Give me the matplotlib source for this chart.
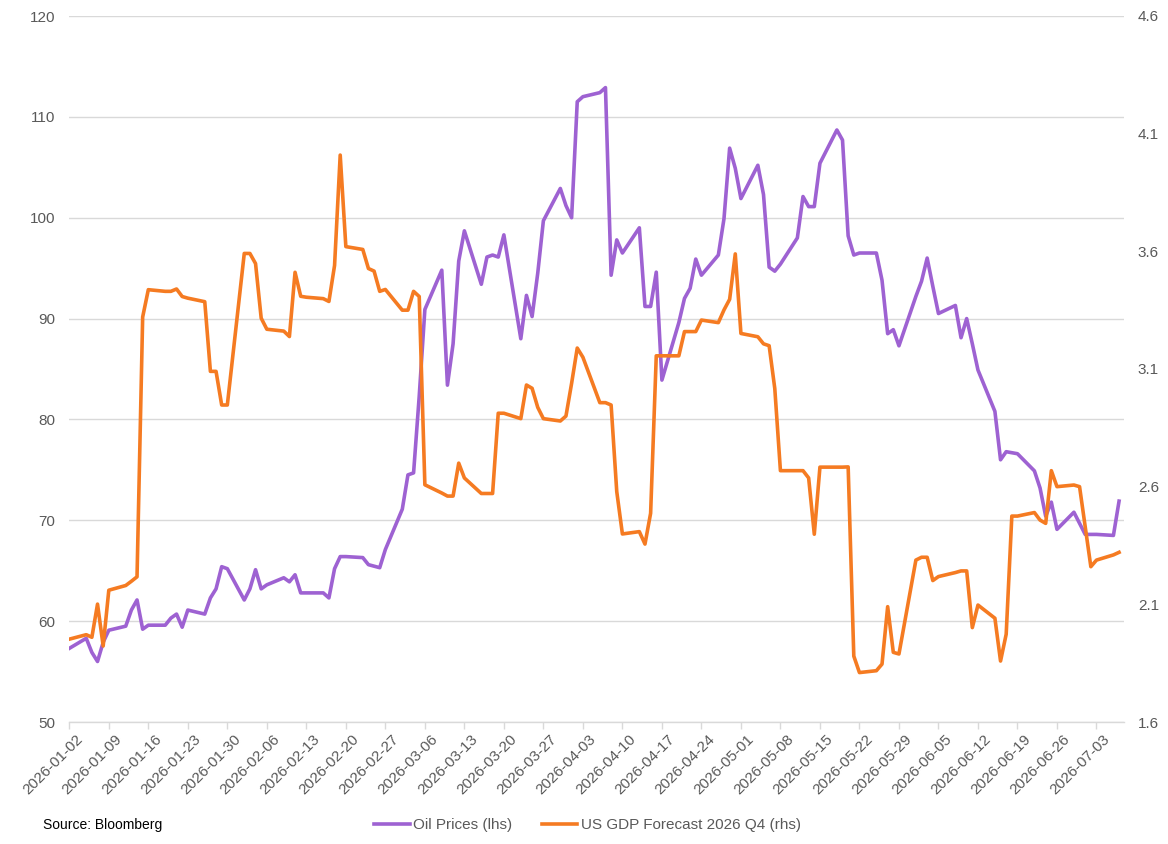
import matplotlib
matplotlib.use('Agg')
import matplotlib.pyplot as plt
import matplotlib.dates as mdates
import matplotlib.transforms as mtransforms
import pandas as pd
from matplotlib.lines import Line2D

plt.rcParams['font.family'] = ['Liberation Sans', 'DejaVu Sans']

# ---------------- data ----------------
dates = pd.bdate_range('2026-01-02', '2026-07-07')

oil = [
    57.3,
    58.3, 56.9, 56.0, 57.9, 59.1,
    59.5, 61.1, 62.1, 59.2, 59.6,
    59.6, 60.3, 60.7, 59.4, 61.1,
    60.7, 62.3, 63.2, 65.4, 65.2,
    62.1, 63.2, 65.1, 63.2, 63.6,
    64.3, 63.9, 64.6, 62.8, 62.8,
    62.8, 62.3, 65.2, 66.4, 66.4,
    66.3, 65.6, 65.45, 65.3, 67.1,
    71.1, 74.5, 74.7, 82.3, 90.9,
    94.8, 83.4, 87.5, 95.7, 98.7,
    93.4, 96.1, 96.3, 96.1, 98.3,
    88.0, 92.3, 90.2, 94.5, 99.7,
    102.9, 101.2, 100.0, 111.5, 112.0,
    112.4, 112.9, 94.3, 97.8, 96.5,
    99.0, 91.2, 91.2, 94.6, 83.9,
    89.6, 92.0, 93.0, 95.9, 94.3,
    96.3, 99.9, 106.9, 104.9, 101.9,
    105.2, 102.3, 95.1, 94.7, 95.4,
    98.0, 102.1, 101.1, 101.1, 105.4,
    108.7, 107.7, 98.2, 96.3, 96.5,
    96.5, 93.8, 88.5, 88.9, 87.3,
    92.2, 93.7, 96.0, 93.2, 90.5,
    91.3, 88.1, 90.0, 87.5, 84.9,
    80.8, 76.0, 76.8, 76.7, 76.6,
    74.9, 73.2, 70.4, 71.8, 69.1,
    70.8, 69.7, 68.6, 68.6, 68.6,
    68.5, 71.9,
]

gdp = [
    1.952,
    1.971, 1.960, 2.101, 1.923, 2.160,
    2.180, 2.198, 2.217, 3.321, 3.437,
    3.430, 3.430, 3.440, 3.408, 3.401,
    3.386, 3.090, 3.090, 2.947, 2.947,
    3.591, 3.591, 3.548, 3.316, 3.269,
    3.261, 3.238, 3.511, 3.409, 3.405,
    3.399, 3.387, 3.540, 4.009, 3.620,
    3.608, 3.527, 3.516, 3.430, 3.438,
    3.350, 3.350, 3.430, 3.408, 2.608,
    2.573, 2.560, 2.560, 2.700, 2.637,
    2.571, 2.571, 2.571, 2.912, 2.912,
    2.889, 3.032, 3.018, 2.937, 2.889,
    2.879, 2.900, 3.039, 3.189, 3.150,
    2.957, 2.957, 2.947, 2.579, 2.399,
    2.409, 2.356, 2.487, 3.156, 3.156,
    3.156, 3.259, 3.259, 3.259, 3.308,
    3.297, 3.351, 3.396, 3.589, 3.251,
    3.237, 3.207, 3.199, 3.017, 2.668,
    2.668, 2.668, 2.637, 2.398, 2.683,
    2.683, 2.683, 2.684, 1.880, 1.810,
    1.818, 1.846, 2.090, 1.896, 1.889,
    2.288, 2.300, 2.300, 2.201, 2.218,
    2.235, 2.242, 2.242, 2.001, 2.097,
    2.041, 1.859, 1.973, 2.475, 2.475,
    2.490, 2.458, 2.444, 2.668, 2.600,
    2.607, 2.600, 2.430, 2.260, 2.288,
    2.310, 2.321,
]

tick_dates = pd.date_range('2026-01-02', '2026-07-03', freq='7D')
left_ticks = [50, 60, 70, 80, 90, 100, 110, 120]
right_ticks = [1.6, 2.1, 2.6, 3.1, 3.6, 4.1, 4.6]

series_labels = ['Oil Prices (lhs)', 'US GDP Forecast 2026 Q4 (rhs)']
source_text = 'Source: Bloomberg'

# ---------------- style ----------------
PURPLE = '#9E62D2'
ORANGE = '#F57B22'
GRID = '#D9D9D9'
TXT = '#595959'
LW = 2.6

W, H = 1168, 844
fig = plt.figure(figsize=(W / 100, H / 100), dpi=100)
x0, x1, y0, y1 = 69.3, 1124, 16, 722
ax = fig.add_axes([x0 / W, 1 - y1 / H, (x1 - x0) / W, (y1 - y0) / H])
ax2 = ax.twinx()

ax.plot(dates, oil, color=PURPLE, lw=LW, zorder=3)
ax2.plot(dates, gdp, color=ORANGE, lw=LW, zorder=3)

ax.set_xlim(pd.Timestamp('2026-01-02'), pd.Timestamp('2026-07-07 21:00'))
ax.set_ylim(50, 120)
ax2.set_ylim(1.6, 4.6)

ax.set_yticks(left_ticks)
ax.set_yticklabels([f'{v}' for v in left_ticks])
ax2.set_yticks(right_ticks)
ax2.set_yticklabels([f'{v:.1f}' for v in right_ticks])

ax.yaxis.grid(True, color=GRID, lw=1.0)
ax.set_axisbelow(True)

for a in (ax, ax2):
    for s in ('top', 'left', 'right'):
        a.spines[s].set_visible(False)
    a.spines['bottom'].set_visible(False)
ax.spines['bottom'].set_visible(True)
ax.spines['bottom'].set_color(GRID)
ax.spines['bottom'].set_linewidth(1.0)

ax.tick_params(axis='y', length=0, pad=10, labelsize=11, labelcolor=TXT)
ax2.tick_params(axis='y', length=0, pad=10, labelsize=11, labelcolor=TXT)

ax.set_xticks(tick_dates)
ax.xaxis.set_major_formatter(mdates.DateFormatter('%Y-%m-%d'))
ax.tick_params(axis='x', length=5, width=1, color=GRID, pad=2,
               labelsize=11, labelcolor=TXT)
offset = mtransforms.ScaledTranslation(6 / 100, 0, fig.dpi_scale_trans)
for lab in ax.get_xticklabels():
    lab.set_rotation(45)
    lab.set_ha('right')
    lab.set_va('top')
    lab.set_rotation_mode('anchor')
    lab.set_transform(lab.get_transform() + offset)

handles = [Line2D([], [], color=PURPLE, lw=LW), Line2D([], [], color=ORANGE, lw=LW)]
leg = fig.legend(handles, series_labels, loc='center', bbox_to_anchor=(0.503, 0.0225),
                 ncol=2, frameon=False, fontsize=11, handlelength=2.3,
                 handletextpad=0.2, columnspacing=2.0, borderaxespad=0)
for t in leg.get_texts():
    t.set_color(TXT)

fig.text(43 / W, 0.0225, source_text, fontsize=10, color='black', va='center', ha='left')

fig.savefig('out.png', dpi=100)
